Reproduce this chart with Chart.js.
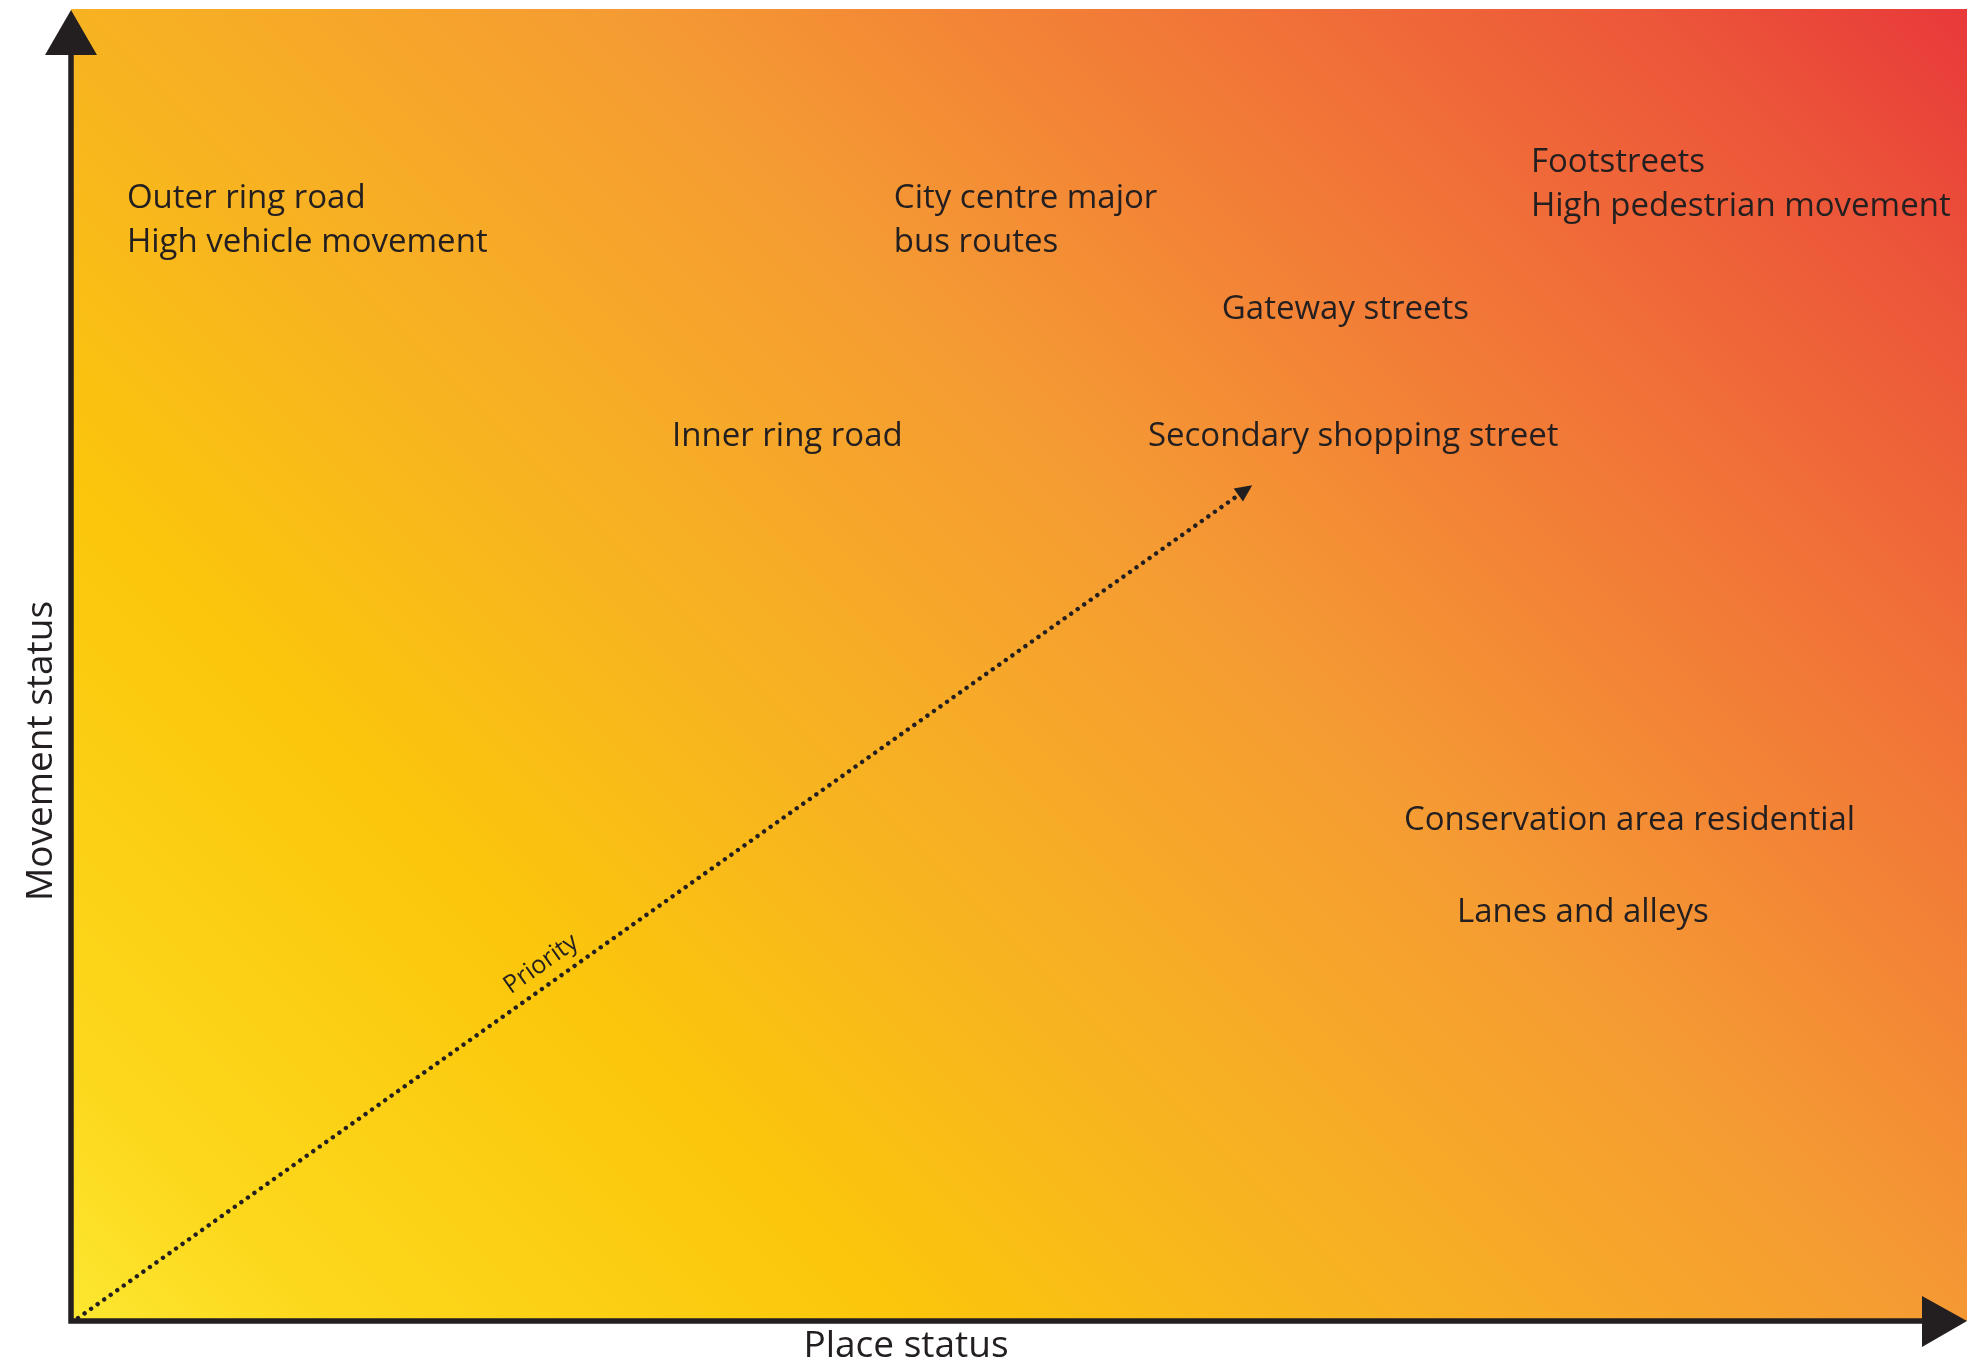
<!DOCTYPE html>
<html>
<head>
<meta charset="utf-8">
<script src="https://cdn.jsdelivr.net/npm/chart.js@4.4.0/dist/chart.umd.min.js"></script>
<style>
html,body{margin:0;padding:0;background:#ffffff;}
#wrap{width:1976px;height:1363px;}
</style>
</head>
<body>
<div id="wrap"><canvas id="c" width="1976" height="1363"></canvas></div>
<script>
// ---- data (place status = x, movement status = y, 0..100) ----
const streetTypes = [
  ["Outer ring road", "High vehicle movement"],
  ["City centre major", "bus routes"],
  ["Footstreets", "High pedestrian movement"],
  ["Gateway streets"],
  ["Inner ring road"],
  ["Secondary shopping street"],
  ["Conservation area residential"],
  ["Lanes and alleys"]
];
const placeStatus    = [2.95, 43.4, 77.0, 60.7, 31.7, 56.8, 70.3, 73.1];
const movementStatus = [84.8, 84.8, 87.6, 76.4, 66.7, 66.7, 37.4, 30.4];

const priorityPlace    = [0.37, 62.3];
const priorityMovement = [0.23, 63.7];
const priorityLabel = "Priority";
const priorityLabelPlace = 24.8;
const priorityLabelMovement = 27.2;

const xAxisTitle = "Place status";
const yAxisTitle = "Movement status";

const FONT = '"Open Sans", "Noto Sans", sans-serif';
const INK = '#231f20';

const labelPoints = placeStatus.map((x, i) => ({x: x, y: movementStatus[i]}));
const priorityPoints = priorityPlace.map((x, i) => ({x: x, y: priorityMovement[i]}));

const gradientPlugin = {
  id: 'bgGradient',
  beforeDraw(chart) {
    const {ctx, chartArea: a} = chart;
    const w = a.right - a.left, h = a.bottom - a.top;
    const g = ctx.createLinearGradient(a.left, a.bottom, a.left + (w + h) / 2, a.bottom - (w + h) / 2);
    g.addColorStop(0.00, '#fde731');
    g.addColorStop(0.08, '#fcd81c');
    g.addColorStop(0.26, '#fbc60b');
    g.addColorStop(0.39, '#f8b51f');
    g.addColorStop(0.58, '#f59b33');
    g.addColorStop(0.78, '#f17138');
    g.addColorStop(0.90, '#ec5639');
    g.addColorStop(1.00, '#e8393a');
    ctx.save();
    ctx.fillStyle = g;
    ctx.fillRect(a.left, a.top, w, h);
    ctx.restore();
  }
};

const overlayPlugin = {
  id: 'overlay',
  afterDraw(chart) {
    const {ctx, chartArea: a, scales} = chart;
    const xs = scales.x, ys = scales.y;
    ctx.save();
    // axes
    ctx.strokeStyle = INK;
    ctx.fillStyle = INK;
    ctx.lineWidth = 5.5;
    ctx.lineCap = 'butt';
    const ox = xs.getPixelForValue(0), oy = ys.getPixelForValue(0);
    ctx.beginPath();
    ctx.moveTo(ox, oy + 2.75);
    ctx.lineTo(ox, a.top + 40);
    ctx.moveTo(ox - 2.75, oy);
    ctx.lineTo(a.right - 40, oy);
    ctx.stroke();
    // y arrow head
    ctx.beginPath();
    ctx.moveTo(ox, a.top + 1);
    ctx.lineTo(ox - 26, a.top + 46);
    ctx.lineTo(ox + 26, a.top + 46);
    ctx.closePath();
    ctx.fill();
    // x arrow head
    ctx.beginPath();
    ctx.moveTo(a.right, oy);
    ctx.lineTo(a.right - 45, oy - 25);
    ctx.lineTo(a.right - 45, oy + 26);
    ctx.closePath();
    ctx.fill();

    // priority arrowhead
    const p0x = xs.getPixelForValue(priorityPlace[0]), p0y = ys.getPixelForValue(priorityMovement[0]);
    const p1x = xs.getPixelForValue(priorityPlace[1]), p1y = ys.getPixelForValue(priorityMovement[1]);
    const ang = Math.atan2(p1y - p0y, p1x - p0x);
    ctx.save();
    ctx.translate(p1x, p1y);
    ctx.rotate(ang);
    ctx.beginPath();
    ctx.moveTo(0, 0);
    ctx.lineTo(-17, -8);
    ctx.lineTo(-17, 8);
    ctx.closePath();
    ctx.fill();
    ctx.restore();

    // priority label
    ctx.save();
    ctx.translate(xs.getPixelForValue(priorityLabelPlace), ys.getPixelForValue(priorityLabelMovement));
    ctx.rotate(ang);
    ctx.font = '25px ' + FONT;
    ctx.textAlign = 'center';
    ctx.textBaseline = 'middle';
    ctx.fillText(priorityLabel, 0, 0);
    ctx.restore();

    // street labels
    ctx.font = '33px ' + FONT;
    ctx.textAlign = 'left';
    ctx.textBaseline = 'alphabetic';
    streetTypes.forEach((lines, i) => {
      const px = xs.getPixelForValue(placeStatus[i]);
      const py = ys.getPixelForValue(movementStatus[i]);
      lines.forEach((t, j) => ctx.fillText(t, px, py + j * 44));
    });

    // axis titles
    ctx.font = '37px ' + FONT;
    ctx.textAlign = 'center';
    ctx.textBaseline = 'alphabetic';
    ctx.fillText(xAxisTitle, 906, 1357);
    ctx.save();
    ctx.translate(52, 751);
    ctx.rotate(-Math.PI / 2);
    ctx.fillText(yAxisTitle, 0, 0);
    ctx.restore();
    ctx.restore();
  }
};

new Chart(document.getElementById('c'), {
  type: 'scatter',
  data: {
    datasets: [
      { data: labelPoints, pointRadius: 0, pointHoverRadius: 0, showLine: false },
      { data: priorityPoints, showLine: true, pointRadius: 0, borderColor: INK,
        borderWidth: 4.4, borderCapStyle: 'round', borderDash: [0.01, 8], fill: false }
    ]
  },
  options: {
    responsive: false,
    devicePixelRatio: 1,
    animation: false,
    layout: { padding: { left: 71, right: 9, top: 9, bottom: 42 } },
    plugins: { legend: { display: false }, tooltip: { enabled: false } },
    scales: {
      x: { type: 'linear', min: 0, max: 100, display: false },
      y: { type: 'linear', min: 0, max: 100, display: false }
    }
  },
  plugins: [gradientPlugin, overlayPlugin]
});
</script>
</body>
</html>
